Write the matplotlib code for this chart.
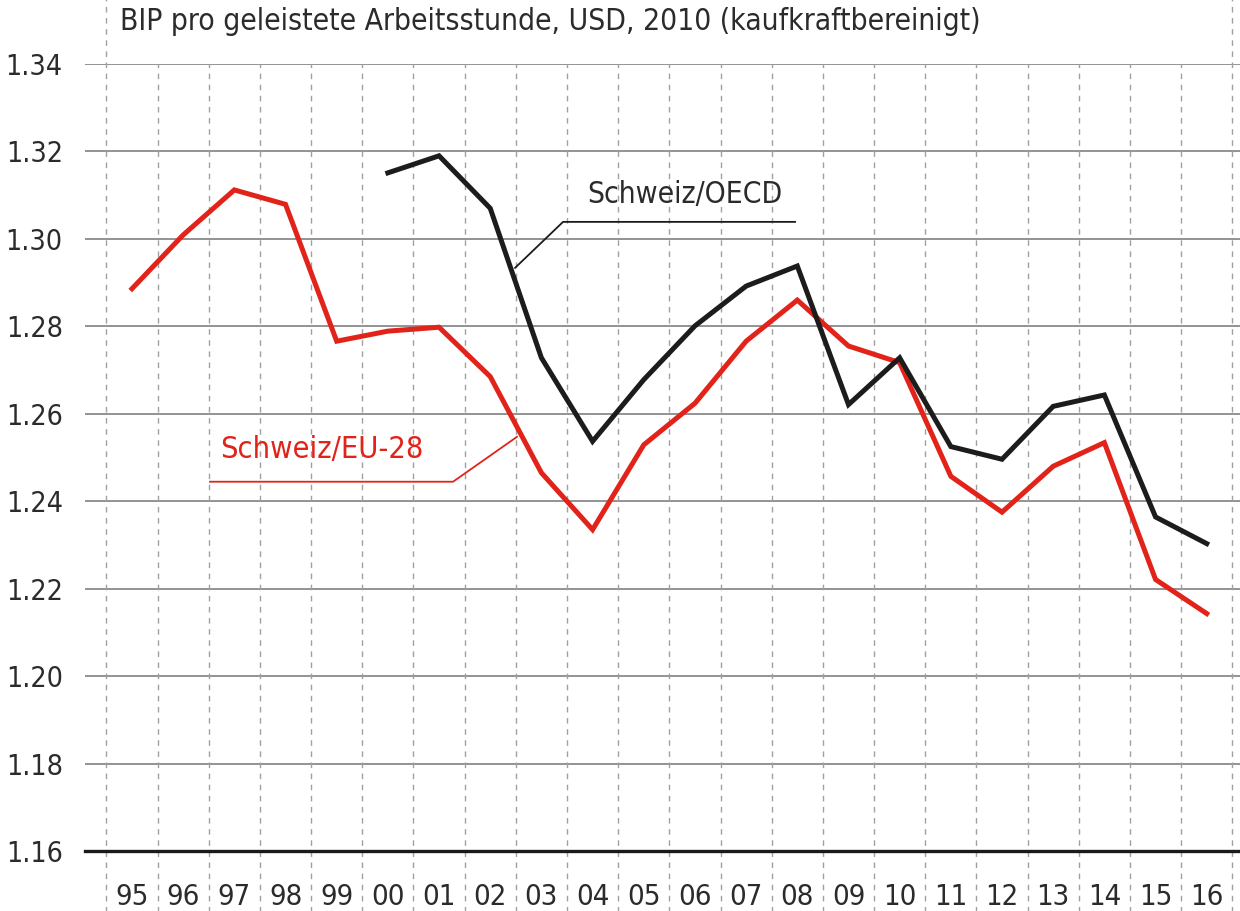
import matplotlib
matplotlib.use('Agg')
import matplotlib.pyplot as plt
import matplotlib.transforms as mtransforms

plt.rcParams['font.family'] = ['DejaVu Sans']
plt.rcParams['font.stretch'] = 'condensed'

# data
years = ['95', '96', '97', '98', '99', '00', '01', '02', '03', '04', '05',
         '06', '07', '08', '09', '10', '11', '12', '13', '14', '15', '16']
eu28 = [1.2886, 1.3009, 1.3112, 1.3079, 1.2766, 1.2789, 1.2798, 1.2685,
        1.2465, 1.2335, 1.2529, 1.2624, 1.2766, 1.2860, 1.2755, 1.2717,
        1.2457, 1.2375, 1.2480, 1.2534, 1.2221, 1.2143]
oecd_years = years[5:]
oecd = [1.3151, 1.3190, 1.3070, 1.2728, 1.2537, 1.2678, 1.2801, 1.2892,
        1.2938, 1.2621, 1.2728, 1.2525, 1.2496, 1.2617, 1.2643, 1.2364,
        1.2303]
yticks = [1.16, 1.18, 1.20, 1.22, 1.24, 1.26, 1.28, 1.30, 1.32, 1.34]
title = 'BIP pro geleistete Arbeitsstunde, USD, 2010 (kaufkraftbereinigt)'

RED = '#e2231a'
BLACK = '#1c1c1c'
TXT = '#2b2b2b'

fig = plt.figure(figsize=(12.4, 9.11), dpi=100)
ax = fig.add_axes([85 / 1240, 60 / 911, 1155 / 1240, 787 / 911])
ax.set_xlim(-0.918, 21.65)
ax.set_ylim(1.16, 1.34)
for s in ax.spines.values():
    s.set_visible(False)

x = list(range(len(years)))
x_oecd = [years.index(y) for y in oecd_years]

# horizontal grid
for v in yticks[1:]:
    ax.axhline(v, color='#8a8a8a', lw=1.3, zorder=1)
ax.axhline(1.16, color='#1a1a1a', lw=2.4, zorder=3, clip_on=False)

# vertical dashed separators between years
trans = mtransforms.blended_transform_factory(ax.transData, ax.transAxes)
for i in range(len(years) + 1):
    xv = i - 0.5
    top = 1.09 if i in (0, len(years)) else 1.0
    ax.plot([xv, xv], [-0.08, top], transform=trans, color='#a0a0a0',
            lw=1.0, ls=(0, (4, 4)), clip_on=False, zorder=1)

ax.plot(x, eu28, color=RED, lw=3.6, solid_joinstyle='miter', zorder=4)
ax.plot(x_oecd, oecd, color=BLACK, lw=3.6, solid_joinstyle='miter', zorder=5)

# labels with leader lines
ax.plot([7.485, 8.423, 12.957], [1.29337, 1.30389, 1.30389], color=BLACK, lw=1.3, zorder=6)
ax.text(8.89, 1.3101, 'Schweiz/OECD', color=TXT, fontsize=21.5, va='center', ha='left')
ax.plot([7.524, 6.273, 1.524], [1.25474, 1.24446, 1.24446], color=RED, lw=1.3, zorder=6)
ax.text(1.72, 1.2518, 'Schweiz/EU-28', color=RED, fontsize=22, va='center', ha='left')

# ticks
ax.set_yticks(yticks)
ax.set_yticklabels([f'{v:.2f}' for v in yticks], fontsize=20.5, color=TXT)
ax.set_xticks(x)
ax.set_xticklabels(years, fontsize=21, color=TXT)
ax.tick_params(axis='y', length=0, pad=16)
ax.tick_params(axis='x', length=0, pad=23)

fig.text(120 / 1240, 1 - 22 / 911, title, fontsize=21.5, color=TXT, va='center', ha='left')

fig.savefig('out.png', dpi=100)
